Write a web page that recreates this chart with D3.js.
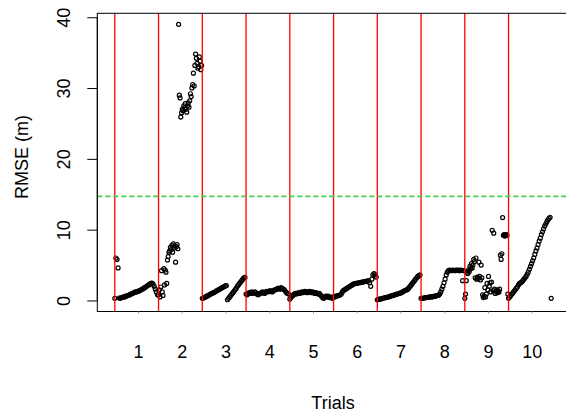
<!DOCTYPE html>
<html>
<head>
<meta charset="utf-8">
<script src="https://cdn.jsdelivr.net/npm/d3@7"></script>
<style>
  body { margin: 0; background: #fff; }
  svg { display: block; font-family: "Liberation Sans", Arial, sans-serif; }
</style>
</head>
<body>
<div id="chart-container"></div>
<script>
// RMSE values per trial, in sample order
const trial1 = [0.3, 6.0, 5.8, 4.6, 0.35, 0.3, 0.4, 0.45, 0.5, 0.5, 0.6, 0.65, 0.7, 0.75, 0.85, 0.9, 1.0, 1.05, 1.15, 1.2, 1.2, 1.3, 1.35, 1.4, 1.5, 1.6, 1.65, 1.8, 1.85, 2.0, 2.1, 2.2, 2.3, 2.4, 2.45, 2.3, 2.0, 1.6, 1.2, 0.8];
const trial2 = [0.8, 1.5, 0.5, 1.9, 4.2, 1.2, 0.7, 4.5, 2.2, 4.3, 4.0, 2.4,
    5.7, 6.2, 6.8, 7.0, 7.5, 7.2, 7.8, 6.8, 8.0, 7.4, 7.7, 5.4, 7.6, 7.9, 7.3,
    39.0, 29.0, 28.6, 25.9, 26.5, 27.0, 26.8, 27.5, 27.2, 27.8, 27.0, 26.6, 27.5, 27.9, 27.3, 28.2,
    29.2, 28.8, 30.0, 30.5, 32.1, 30.3,
    33.2, 34.8, 34.2, 33.5, 32.8, 33.0, 34.4, 33.8, 32.6, 33.2];
const trial3 = [0.3, 0.35, 0.4, 0.5, 0.6, 0.65, 0.75, 0.85, 0.95, 1.0, 1.1, 1.15, 1.25, 1.35, 1.45, 1.5, 1.6, 1.7, 1.8, 1.9, 1.95, 2.05, 2.1, 0.1, 0.3, 0.5, 0.7, 0.9, 1.1, 1.3, 1.5, 1.7, 2.0, 2.2, 2.4, 2.6, 2.8, 3.0, 3.2, 3.25];
const trial4 = [0.9, 0.8, 1.0, 1.1, 1.0, 1.2, 1.1, 1.0, 1.2, 1.1, 0.9, 0.8, 0.9, 1.0, 1.1, 1.2, 1.1, 1.0, 1.2, 1.3, 1.2, 1.3, 1.4, 1.3, 1.2, 1.4, 1.5, 1.5, 1.6, 1.7, 1.7, 1.6, 1.8, 1.7, 1.6, 1.5, 1.3, 1.1, 1.0, 0.9];
const trial5 = [0.2, 0.4, 0.6, 0.7, 0.9, 1.0, 0.9, 1.0, 1.1, 1.0, 1.1, 1.2, 1.1, 1.2, 1.3, 1.2, 1.1, 1.2, 1.3, 1.2, 1.1, 1.2, 1.1, 1.0, 1.1, 1.0, 0.9, 1.0, 0.8, 0.6, 0.4, 0.3, 0.5, 0.6, 0.5, 0.6, 0.4, 0.5, 0.4, 0.3];
const trial6 = [0.5, 0.5, 0.6, 0.6, 0.7, 0.7, 0.8, 0.9, 1.2, 1.4, 1.5, 1.6, 1.7, 1.8, 1.9, 2.0, 2.1, 2.2, 2.3, 2.35, 2.4, 2.4, 2.45, 2.5, 2.5, 2.55, 2.6, 2.6, 2.65, 2.7, 2.7, 2.75, 2.8, 2.5, 2.0, 3.0, 3.6, 3.8, 3.6, 3.3];
const trial7 = [0.1, 0.15, 0.2, 0.2, 0.25, 0.3, 0.35, 0.4, 0.4, 0.45, 0.5, 0.55, 0.6, 0.65, 0.7, 0.75, 0.8, 0.85, 0.9, 0.95, 1.0, 1.05, 1.1, 1.2, 1.3, 1.4, 1.45, 1.5, 1.6, 1.8, 2.0, 2.2, 2.4, 2.6, 2.8, 3.0, 3.2, 3.4, 3.5, 3.6];
const trial8 = [0.3, 0.3, 0.35, 0.35, 0.4, 0.4, 0.45, 0.45, 0.5, 0.5, 0.5, 0.55, 0.6, 0.6, 0.65, 0.7, 0.75, 0.9, 1.2, 1.6, 2.0, 2.5, 3.0, 3.6, 4.0, 4.2, 4.3, 4.25, 4.2, 4.3, 4.25, 4.2, 4.3, 4.25, 4.3, 4.2, 4.3, 4.25, 2.8, 4.2];
const trial9 = [0.3, 0.9, 2.8, 4.0,
    3.8, 4.3, 4.1, 4.8, 4.5, 5.2, 4.6, 5.0,
    5.8, 5.5, 3.2, 6.0, 3.0, 3.3, 3.1, 5.4, 3.4, 2.9, 5.0, 3.2,
    0.8, 0.4, 0.6, 1.8, 0.5, 0.9, 2.4, 1.5, 3.4, 2.0, 2.5, 1.2, 2.6, 9.9,
    1.4, 9.5, 1.6, 1.0, 1.3, 1.5, 1.1, 1.4, 1.2, 1.6, 6.4, 5.8, 6.6,
    11.7, 9.2, 9.3, 9.1, 9.2, 9.3, 9.2, 0.9];
const trial10 = [0.3, 0.5, 0.7, 0.9, 1.1, 1.3, 1.5, 1.7, 1.9, 2.2, 2.4, 2.5, 2.6, 2.8, 3.0, 3.2, 3.4, 3.7, 4.0, 4.4, 4.8, 5.2, 5.6, 6.0, 6.5, 7.0, 7.4, 7.9, 8.4, 8.8, 9.3, 9.7, 10.1, 10.5, 10.8, 11.1, 11.4, 11.6, 11.75, 0.3];

const trials = [trial1, trial2, trial3, trial4, trial5, trial6, trial7, trial8, trial9, trial10];
const trialLabels = ["1", "2", "3", "4", "5", "6", "7", "8", "9", "10"];
const yTicks = [0, 10, 20, 30, 40];
const threshold = 14.7;

const width = 566;
const height = 414;

// x in trial units: trial k spans [k-1, k)
const x = d3.scaleLinear()
    .domain([-0.4, 10.4])
    .range([97.3, 569.8]);

const y = d3.scaleLinear()
    .domain([-1.56, 40.56])
    .range([311.5, 13.3]);

const points = trials.flatMap((vals, t) =>
    vals.map((v, i) => ({ x: t + i / vals.length, y: v })));

const svg = d3.create("svg")
    .attr("width", width)
    .attr("height", height);

// points
svg.append("g")
    .selectAll("circle")
    .data(points)
    .join("circle")
    .attr("cx", d => x(d.x))
    .attr("cy", d => y(d.y))
    .attr("r", 2)
    .attr("fill", "none")
    .attr("stroke", "#000")
    .attr("stroke-width", 1.2);

// trial boundaries
svg.append("g")
    .selectAll("line")
    .data(d3.range(trials.length))
    .join("line")
    .attr("x1", d => x(d))
    .attr("x2", d => x(d))
    .attr("y1", y.range()[1])
    .attr("y2", y.range()[0])
    .attr("stroke", "#ff0000")
    .attr("stroke-width", 1.3);

// threshold line
svg.append("line")
    .attr("x1", x.range()[0])
    .attr("x2", x.range()[1])
    .attr("y1", y(threshold))
    .attr("y2", y(threshold))
    .attr("stroke", "#44cc44")
    .attr("stroke-width", 1.6)
    .attr("stroke-dasharray", "5,3");

// box
svg.append("rect")
    .attr("x", x.range()[0])
    .attr("y", y.range()[1])
    .attr("width", x.range()[1] - x.range()[0])
    .attr("height", y.range()[0] - y.range()[1])
    .attr("fill", "none")
    .attr("stroke", "#000")
    .attr("stroke-width", 1);

// y axis
svg.append("g")
    .attr("transform", `translate(${x.range()[0]},0)`)
    .call(d3.axisLeft(y).tickValues(yTicks).tickSize(10).tickSizeOuter(0).tickPadding(0))
    .call(g => g.select(".domain").remove())
    .call(g => g.selectAll(".tick line").attr("stroke", "#000"))
    .call(g => g.selectAll(".tick text")
        .attr("font-size", 18)
        .attr("fill", "#000")
        .attr("text-anchor", "middle")
        .attr("transform", "rotate(-90)")
        .attr("x", 0)
        .attr("y", -34)
        .attr("dy", "0.35em"))
    .call(g => g.append("path")
        .attr("d", `M0,${y(0)}V${y(40)}`)
        .attr("stroke", "#000"));

// x axis: trial labels
svg.append("g")
    .attr("transform", `translate(0,${y.range()[0]})`)
    .call(d3.axisBottom(x)
        .tickValues(d3.range(trials.length).map(i => i + 0.53))
        .tickFormat((d, i) => trialLabels[i])
        .tickSize(2)
        .tickPadding(32))
    .call(g => g.select(".domain").remove())
    .call(g => g.selectAll(".tick line").attr("stroke", "#999"))
    .call(g => g.selectAll(".tick text")
        .attr("font-size", 18)
        .attr("fill", "#000"));

// axis titles
svg.append("text")
    .attr("x", 333)
    .attr("y", 409)
    .attr("font-size", 18)
    .attr("text-anchor", "middle")
    .text("Trials");

svg.append("text")
    .attr("transform", "translate(28,157) rotate(-90)")
    .attr("font-size", 18)
    .attr("text-anchor", "middle")
    .text("RMSE (m)");

document.getElementById("chart-container").appendChild(svg.node());
</script>
</body>
</html>
